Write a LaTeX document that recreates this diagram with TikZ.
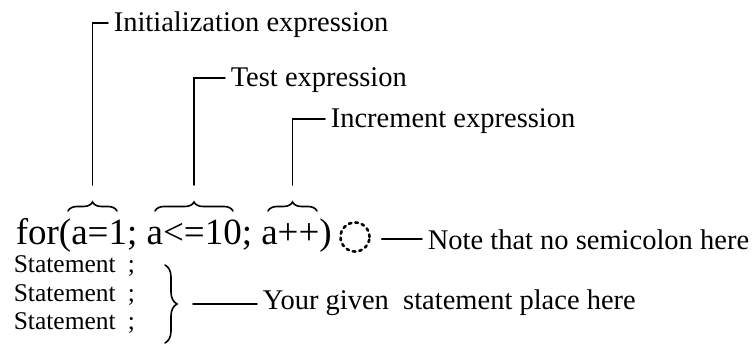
\documentclass[tikz,border=0pt]{standalone}
\usepackage{fontspec}
\setmainfont{Liberation Serif}
\usetikzlibrary{calc,decorations.pathreplacing}
\begin{document}
\begin{tikzpicture}[x=1pt,y=-1pt,line width=1.6pt,line cap=round,
  lbl/.style={anchor=base west,inner sep=0pt,font=\fontsize{28.5}{30}\selectfont},
  stmt/.style={anchor=base west,inner sep=0pt,font=\fontsize{25.5}{27}\selectfont},
  brc/.style={decorate,decoration={brace,amplitude=#1}}]
\useasboundingbox (0,0) rectangle (756,344);
% labels above the loop header
\node[lbl] (init) at (113,32) {Initialization expression};
\node[lbl] (test) at (230,87) {Test expression};
\node[lbl] (incr) at (330,128) {Increment expression};
\node[anchor=base west,inner sep=0pt,font=\fontsize{37}{39}\selectfont] (head) at (15,245) {for(a=1; a<=10; a++)};
% braces over the three expressions and their leaders
\foreach \n/\l/\r in {init/68/117,test/155/233,incr/268/317}{
  \draw[brc=9pt] (\l,211) coordinate (\n l) -- (\r,211) coordinate (\n r);
  \coordinate (\n t) at ($(\n l)!.5!(\n r)+(0,-26)$);
  \draw (\n t) |- ([xshift=-5pt,yshift=9pt]\n.base west);
}
% no semicolon after the header
\node[circle,draw,line width=2.6pt,dash pattern=on 2.6pt off 4pt,minimum size=29pt,inner sep=0pt] (semi) at (355,237) {};
\node[lbl] (note) at (427,250) {Note that no semicolon here};
\draw ([xshift=11pt,yshift=-2pt]semi.east) -- ([xshift=-5pt,yshift=11pt]note.base west);
% loop body
\foreach \i/\y in {1/273,2/302,3/330}
  \node[stmt] (st\i) at (13,\y) {Statement\hspace{12pt};};
\draw[brc=12pt] (165,265) coordinate (bt) -- (165,343) coordinate (bb);
\node[lbl] (given) at (262,310) {Your given\ \ statement place here};
\coordinate (gt) at ($(bt)!.5!(bb)+(28,0)$);
\draw (gt) -- ([xshift=-5pt,yshift=6pt]given.base west);
\end{tikzpicture}
\end{document}
